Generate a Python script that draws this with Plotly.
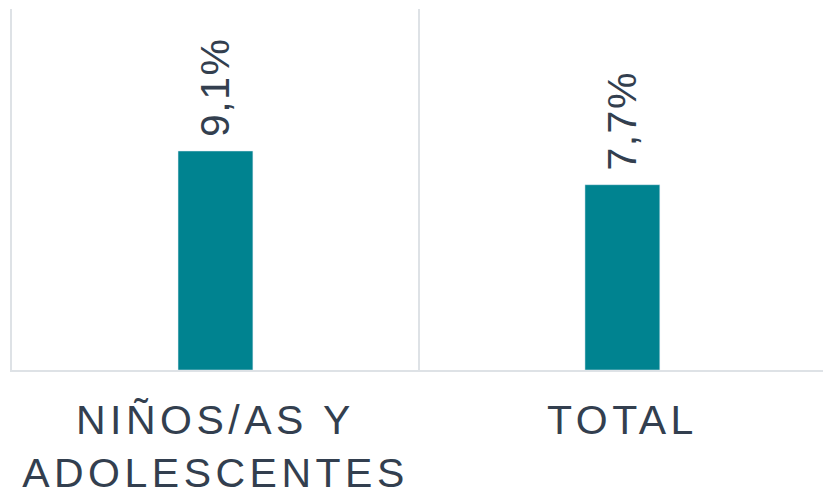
import plotly.graph_objects as go

# data
categories = ["NIÑOS/AS Y<br>ADOLESCENTES", "TOTAL"]
values = [9.1, 7.7]
value_labels = ["9,1%", "7,7%"]

BAR_COLOR = "#008390"
TEXT_COLOR = "#333F4F"
LINE_COLOR = "#DEE2E6"
FONT_FAMILY = "Liberation Sans, Arial, sans-serif"

fig = go.Figure()
fig.add_trace(go.Bar(
    x=categories, y=values,
    marker_color=BAR_COLOR,
    width=0.184,
    hoverinfo="skip",
))

for cat, val, lab in zip(categories, values, value_labels):
    fig.add_annotation(
        x=cat, y=val, text=lab,
        textangle=-90, showarrow=False,
        xanchor="center", yanchor="bottom", yshift=15,
        font=dict(family=FONT_FAMILY, size=41, color=TEXT_COLOR),
    )

fig.update_layout(
    width=823, height=488,
    margin=dict(l=12, r=0, t=9, b=118),
    plot_bgcolor="white", paper_bgcolor="white",
    showlegend=False,
    font=dict(family=FONT_FAMILY, color=TEXT_COLOR),
)
fig.update_xaxes(
    range=[-0.5, 1.493],
    tickson="boundaries", automargin=False,
    showgrid=True, gridcolor=LINE_COLOR, gridwidth=1.5,
    showline=True, linecolor=LINE_COLOR, linewidth=1.5,
    ticks="", ticklabelstandoff=13,
    tickfont=dict(family=FONT_FAMILY, size=41, color=TEXT_COLOR),
)
fig.update_yaxes(
    range=[0, 15], automargin=False,
    showgrid=False, zeroline=False, showticklabels=False,
    showline=True, linecolor=LINE_COLOR, linewidth=1.5,
)

# page has a default 8px body margin; the reference labels are letter-spaced
page_js = """
document.body.style.margin='0';
document.querySelectorAll('.xtick text').forEach(function(t){t.style.letterSpacing='4.5px';});
document.querySelectorAll('.annotation-text').forEach(function(t){t.style.letterSpacing='1.5px';});
"""

fig.write_html("out.html", post_script=page_js, config={"displayModeBar": False})
